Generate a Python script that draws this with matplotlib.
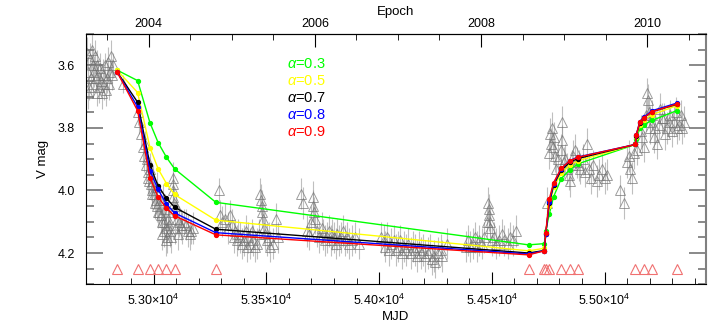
import numpy as np
import matplotlib
matplotlib.use("Agg")
import matplotlib.pyplot as plt
from matplotlib.ticker import MultipleLocator, FixedLocator, FuncFormatter

plt.rcParams['font.family'] = ['Liberation Sans', 'DejaVu Sans']
plt.rcParams['mathtext.fontset'] = 'custom'
plt.rcParams['mathtext.rm'] = 'Liberation Sans'
plt.rcParams['mathtext.it'] = 'Liberation Sans:italic'

# observed light curve (MJD, V mag, error)
obs_mjd = [
    52706, 52710, 52714, 52718, 52722, 52726, 52730, 52733, 52737, 52740,
    52744, 52747, 52751, 52755, 52758, 52762, 52766, 52770, 52774, 52778,
    52783, 52787, 52792, 52797, 52802, 52806, 52811, 52816, 52820, 52708, 52866,
    52929, 52936, 52944, 52951, 52958, 52962, 52966, 52970, 52973, 52977,
    52980, 52984, 52988, 52992, 52995, 52999, 53003, 53006, 53010, 53013,
    53017, 53021, 53025, 53028, 53032, 53036, 53040, 53044, 53047, 53051,
    53054, 53059, 53062, 53066, 53069, 53073, 53084, 53084, 53086, 53088,
    53092, 53099, 53105, 53114, 53120, 53128, 53136, 53143, 53152, 53160,
    53168, 53174, 53038, 53056, 53078, 53095, 53110,
    53290, 53295, 53305, 53318, 53330, 53340, 53347, 53355, 53360, 53368,
    53375, 53384, 53392, 53400, 53408, 53414, 53420, 53428, 53435, 53443,
    53450, 53458, 53466, 53474, 53478, 53480, 53482, 53484, 53488, 53495,
    53503, 53510, 53518, 53530, 53545, 53552,
    53655, 53662, 53680, 53690, 53700, 53706, 53709, 53712, 53716, 53725,
    53735, 53745, 53752, 53760, 53769, 53778, 53785, 53792, 53800, 53808,
    53815, 53822, 53830, 53840, 53848, 53858, 53868, 53880, 53895, 53910,
    54010, 54020, 54028, 54035, 54045, 54055, 54065, 54075, 54085, 54094,
    54102, 54112, 54120, 54130, 54140, 54150, 54160, 54168, 54176, 54185,
    54195, 54205, 54215, 54225, 54235, 54242, 54250, 54262, 54275, 54280, 54300,
    54385, 54395, 54405, 54415, 54425, 54435, 54445, 54455, 54465, 54478,
    54484, 54486, 54488, 54490, 54493, 54500, 54510, 54520, 54530, 54545,
    54555, 54570, 54582, 54595, 54608,
    54745, 54755, 54760, 54764, 54767, 54770, 54774, 54778, 54785, 54795,
    54805, 54811, 54812, 54818, 54826, 54833, 54841, 54848, 54855, 54862,
    54870, 54876, 54885, 54893, 54905, 54915, 54922, 54930, 54940, 54950,
    54967, 54975, 54989, 55000, 55011, 55070, 55085, 55100, 55108, 55115,
    55122, 55130, 55144,
    55160, 55167, 55174, 55182, 55189, 55192, 55196, 55200, 55203, 55210,
    55218, 55225, 55233, 55240, 55248, 55255, 55262, 55270, 55277, 55285,
    55292, 55300, 55307, 55315, 55322, 55330, 55337, 55345, 55351,
]
obs_mag = [
    3.56, 3.62, 3.67, 3.58, 3.64, 3.55, 3.60, 3.66, 3.62, 3.57,
    3.64, 3.69, 3.60, 3.63, 3.67, 3.61, 3.65, 3.69, 3.63, 3.66,
    3.60, 3.68, 3.64, 3.59, 3.66, 3.62, 3.57, 3.63, 3.60, 3.69, 3.66,
    3.75, 3.78, 3.82, 3.86, 3.89, 3.85, 3.92, 3.90, 3.94, 3.96,
    3.97, 3.93, 3.98, 4.01, 4.00, 3.97, 4.01, 4.04, 4.03, 3.99,
    4.05, 4.07, 4.07, 4.03, 4.08, 4.10, 4.03, 4.13, 4.10, 4.06,
    4.12, 4.15, 4.07, 4.09, 4.11, 4.13, 3.96, 3.98, 4.00, 4.02,
    4.04, 4.05, 4.09, 4.10, 4.11, 4.12, 4.10, 4.11, 4.13, 4.14,
    4.13, 4.12, 4.14, 4.16, 4.15, 4.12, 4.14,
    4.00, 4.08, 4.10, 4.09, 4.12, 4.08, 4.11, 4.15, 4.13, 4.16,
    4.14, 4.15, 4.17, 4.16, 4.13, 4.18, 4.15, 4.17, 4.13, 4.16,
    4.18, 4.17, 4.14, 4.01, 4.03, 4.05, 4.07, 4.09, 4.12, 4.14,
    4.16, 4.15, 4.18, 4.17, 4.09, 4.15,
    4.01, 4.04, 4.13, 4.14, 4.10, 4.02, 4.05, 4.07, 4.09, 4.13,
    4.15, 4.12, 4.14, 4.16, 4.15, 4.13, 4.16, 4.14, 4.15, 4.17,
    4.14, 4.16, 4.15, 4.13, 4.16, 4.15, 4.17, 4.16, 4.15, 4.17,
    4.15, 4.16, 4.18, 4.15, 4.19, 4.17, 4.16, 4.19, 4.18, 4.16,
    4.20, 4.18, 4.19, 4.17, 4.20, 4.18, 4.19, 4.21, 4.18, 4.20,
    4.19, 4.21, 4.20, 4.19, 4.22, 4.21, 4.23, 4.20, 4.19, 4.21, 4.17,
    4.18, 4.16, 4.18, 4.17, 4.15, 4.18, 4.16, 4.17, 4.15, 4.10,
    4.04, 4.06, 4.08, 4.10, 4.12, 4.16, 4.15, 4.17, 4.16, 4.14,
    4.16, 4.17, 4.15, 4.16, 4.13,
    4.04, 3.88, 3.82, 3.85, 3.80, 3.86, 3.83, 3.89, 3.93, 3.90,
    3.87, 3.78, 3.84, 3.91, 3.90, 3.93, 3.95, 3.97, 3.92, 3.89,
    3.87, 3.91, 3.92, 3.93, 3.90, 3.94, 3.85, 3.93, 3.96, 3.92,
    3.97, 3.95, 3.93, 3.96, 3.95, 4.00, 4.04, 3.91, 3.89, 3.93,
    3.96, 3.88, 3.87,
    3.81, 3.83, 3.86, 3.76, 3.69, 3.71, 3.75, 3.78, 3.80, 3.76,
    3.83, 3.80, 3.85, 3.79, 3.74, 3.77, 3.77, 3.82, 3.80, 3.78,
    3.76, 3.81, 3.78, 3.75, 3.80, 3.79, 3.76, 3.80, 3.78,
]
obs_err = [
    0.05, 0.05, 0.04, 0.05, 0.05, 0.06, 0.05, 0.04, 0.05, 0.05,
    0.05, 0.04, 0.05, 0.05, 0.05, 0.05, 0.04, 0.05, 0.05, 0.05,
    0.04, 0.05, 0.05, 0.05, 0.05, 0.04, 0.05, 0.05, 0.04, 0.05, 0.03,
    0.04, 0.04, 0.04, 0.05, 0.05, 0.04, 0.05, 0.04, 0.05, 0.05,
    0.04, 0.05, 0.05, 0.05, 0.04, 0.05, 0.05, 0.05, 0.04, 0.05,
    0.05, 0.05, 0.04, 0.05, 0.05, 0.05, 0.05, 0.05, 0.04, 0.05,
    0.05, 0.05, 0.05, 0.04, 0.05, 0.05, 0.05, 0.04, 0.05, 0.05,
    0.05, 0.04, 0.05, 0.05, 0.05, 0.05, 0.04, 0.05, 0.05, 0.05,
    0.04, 0.05, 0.05, 0.05, 0.05, 0.05, 0.05,
    0.04, 0.05, 0.05, 0.05, 0.05, 0.05, 0.05, 0.05, 0.04, 0.05,
    0.05, 0.05, 0.05, 0.05, 0.05, 0.05, 0.05, 0.05, 0.04, 0.05,
    0.05, 0.05, 0.05, 0.05, 0.05, 0.05, 0.05, 0.05, 0.05, 0.05,
    0.05, 0.05, 0.05, 0.05, 0.05, 0.05,
    0.05, 0.05, 0.05, 0.05, 0.05, 0.05, 0.05, 0.05, 0.05, 0.05,
    0.05, 0.05, 0.05, 0.05, 0.05, 0.05, 0.05, 0.05, 0.05, 0.05,
    0.05, 0.05, 0.05, 0.05, 0.05, 0.05, 0.05, 0.05, 0.05, 0.05,
    0.05, 0.05, 0.05, 0.05, 0.05, 0.05, 0.05, 0.05, 0.05, 0.05,
    0.05, 0.05, 0.05, 0.05, 0.05, 0.05, 0.05, 0.05, 0.05, 0.05,
    0.05, 0.05, 0.05, 0.05, 0.05, 0.05, 0.05, 0.05, 0.05, 0.05, 0.05,
    0.05, 0.05, 0.05, 0.05, 0.05, 0.05, 0.05, 0.05, 0.05, 0.05,
    0.05, 0.05, 0.05, 0.05, 0.05, 0.05, 0.05, 0.05, 0.05, 0.05,
    0.05, 0.05, 0.05, 0.05, 0.05,
    0.05, 0.05, 0.05, 0.05, 0.05, 0.05, 0.05, 0.05, 0.05, 0.05,
    0.05, 0.05, 0.05, 0.05, 0.05, 0.05, 0.05, 0.05, 0.05, 0.05,
    0.05, 0.05, 0.05, 0.05, 0.05, 0.05, 0.05, 0.05, 0.05, 0.05,
    0.05, 0.05, 0.05, 0.05, 0.05, 0.05, 0.05, 0.05, 0.05, 0.05,
    0.05, 0.05, 0.05,
    0.05, 0.05, 0.05, 0.05, 0.05, 0.05, 0.05, 0.05, 0.05, 0.05,
    0.05, 0.05, 0.05, 0.05, 0.05, 0.05, 0.05, 0.05, 0.05, 0.05,
    0.05, 0.05, 0.05, 0.05, 0.05, 0.05, 0.05, 0.05, 0.05,
]

# model epochs and magnitudes for each alpha
model_mjd = [52837, 52929, 52984, 53020, 53057, 53093, 53276, 54663,
             54733, 54739, 54755, 54774, 54808, 54845, 54882,
             55137, 55140, 55156, 55173, 55211, 55320]
mag_a03 = [3.615, 3.649, 3.784, 3.847, 3.894, 3.931, 4.038, 4.174,
           4.170, 4.130, 4.075, 4.020, 3.962, 3.934, 3.915,
           3.853, 3.835, 3.800, 3.790, 3.776, 3.745]
mag_a05 = [3.615, 3.687, 3.863, 3.931, 3.978, 4.013, 4.095, 4.193,
           4.185, 4.135, 4.050, 3.990, 3.945, 3.920, 3.905,
           3.853, 3.830, 3.790, 3.775, 3.758, 3.729]
mag_a07 = [3.620, 3.718, 3.919, 3.986, 4.025, 4.054, 4.124, 4.200,
           4.192, 4.140, 4.040, 3.983, 3.935, 3.910, 3.898,
           3.853, 3.826, 3.785, 3.768, 3.748, 3.725]
mag_a08 = [3.620, 3.733, 3.937, 3.997, 4.044, 4.072, 4.135, 4.203,
           4.193, 4.140, 4.037, 3.978, 3.930, 3.905, 3.893,
           3.853, 3.824, 3.780, 3.766, 3.745, 3.721]
mag_a09 = [3.620, 3.745, 3.960, 4.021, 4.057, 4.081, 4.142, 4.206,
           4.193, 4.135, 4.027, 3.975, 3.929, 3.906, 3.894,
           3.853, 3.824, 3.782, 3.768, 3.748, 3.724]
alpha_labels = ['0.3', '0.5', '0.7', '0.8', '0.9']
alpha_colors = ['#00ff00', '#ffff00', 'black', 'blue', 'red']

# epochs marked along the bottom
mark_mjd = [52837, 52929, 52984, 53020, 53057, 53093, 53276, 54663,
            54733, 54742, 54755, 54808, 54845, 54882,
            55137, 55173, 55211, 55320]
mark_mag = 4.25

# top axis: calendar years
year_ticks = [2004, 2006, 2008, 2010]
year_minor = [2003.5, 2004.5, 2005, 2005.5, 2006.5, 2007, 2007.5,
              2008.5, 2009, 2009.5, 2010.5]

fig = plt.figure(figsize=(7.2, 3.36), dpi=100)
ax = fig.add_axes([0.1194, 0.1539, 0.8612, 0.7449])

ax.errorbar(obs_mjd, obs_mag, yerr=obs_err, fmt='none', ecolor='0.55',
            elinewidth=0.8, alpha=0.55, zorder=1)
ax.plot(obs_mjd, obs_mag, '^', mfc='none', mec='0.45', ms=7.5, mew=0.7,
        alpha=0.7, zorder=2)

models = [mag_a03, mag_a05, mag_a07, mag_a08, mag_a09]
for mags, col in zip(models, alpha_colors):
    ax.plot(model_mjd, mags, '-', color=col, lw=1.0, marker='o', ms=2.8,
            mfc=col, mec=col, zorder=3)

ax.plot(mark_mjd, [mark_mag] * len(mark_mjd), '^', mfc='none', mec='#f07070',
        ms=7.5, mew=0.8, zorder=2)

for i, (lab, col) in enumerate(zip(alpha_labels, alpha_colors)):
    ax.text(0.325, 0.88 - i * 0.068, r'$\alpha$=' + lab, color=col,
            fontsize=10.5, transform=ax.transAxes, va='center', ha='left')

ax.set_xlim(52700, 55450)
ax.set_ylim(4.3, 3.5)
ax.xaxis.set_major_locator(MultipleLocator(500))
ax.xaxis.set_minor_locator(MultipleLocator(100))
ax.xaxis.set_major_formatter(FuncFormatter(
    lambda v, p: '%.2f\u00d710$^4$' % (v / 1e4)))
ax.yaxis.set_major_locator(MultipleLocator(0.2))
ax.yaxis.set_minor_locator(MultipleLocator(0.05))
ax.yaxis.set_major_formatter(FuncFormatter(lambda v, p: '%.1f' % v))
ax.tick_params(axis='x', which='both', direction='in', bottom=True, top=False,
               labelsize=9, pad=6)
ax.tick_params(axis='x', which='major', length=9)
ax.tick_params(axis='x', which='minor', length=4)
ax.tick_params(axis='y', which='both', direction='in', left=True, right=True,
               labelsize=9, color='0.5', width=1.3, pad=8)
ax.tick_params(axis='y', which='major', length=12)
ax.tick_params(axis='y', which='minor', length=6)
ax.spines['right'].set_color('0.5')
ax.spines['right'].set_linewidth(1.5)
ax.set_xlabel('MJD', fontsize=9.5, labelpad=2)
ax.set_ylabel('V mag', fontsize=9.5, labelpad=6)


def mjd2yr(m):
    return 2004 + (np.asarray(m) - 52978) / 368.5


def yr2mjd(y):
    return 52978 + (np.asarray(y) - 2004) * 368.5


sec = ax.secondary_xaxis('top', functions=(mjd2yr, yr2mjd))
sec.xaxis.set_major_locator(FixedLocator(year_ticks))
sec.xaxis.set_minor_locator(FixedLocator(year_minor))
sec.xaxis.set_major_formatter(FuncFormatter(lambda v, p: '%d' % round(v)))
sec.tick_params(which='both', direction='in', labelsize=9, pad=3)
sec.tick_params(which='major', length=9)
sec.tick_params(which='minor', length=4)
sec.set_xlabel('Epoch', fontsize=9.5, labelpad=2)

fig.savefig('out.png', dpi=100)
